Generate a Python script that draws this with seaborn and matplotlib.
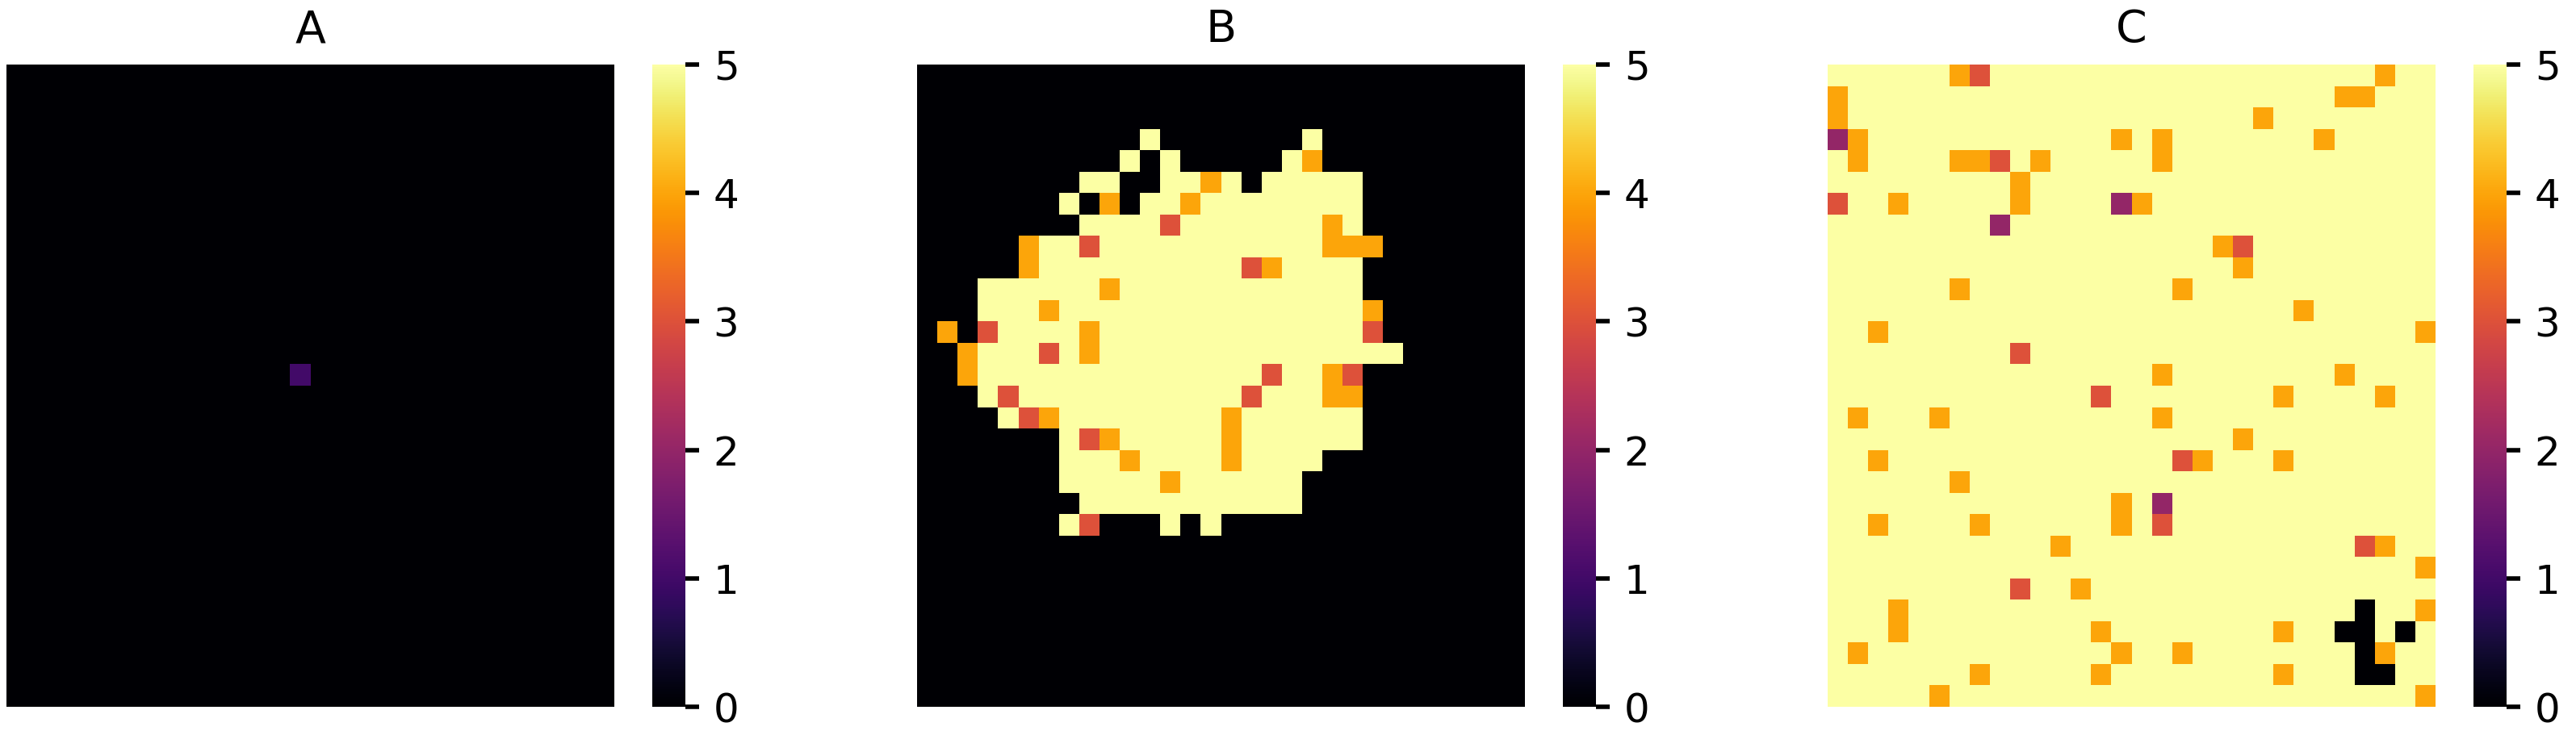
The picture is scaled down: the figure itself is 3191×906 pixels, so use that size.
import numpy as np
import pandas as pd
import matplotlib
matplotlib.use("Agg")
import matplotlib.pyplot as plt
import seaborn as sns

# grid size and panel titles
N = 30
titles = ["A", "B", "C"]

# A: everything 0 except a single cell
a_cells = [(14, 14, 1)]

# B: one string per row, one digit per cell
b_rows = [
    "000000000000000000000000000000",
    "000000000000000000000000000000",
    "000000000000000000000000000000",
    "000000000005000000050000000000",
    "000000000050500000540000000000",
    "000000005500554505555500000000",
    "000000050405545555555500000000",
    "000000005555355555554500000000",
    "000004553555555555554440000000",
    "000004555555555534555500000000",
    "000555555455555555555500000000",
    "000555455555555555555540000000",
    "040355554555555555555530000000",
    "004555354555555555555555000000",
    "004555555555555553554300000000",
    "000535555555555535554400000000",
    "000053455555555455555500000000",
    "000000053455555455555500000000",
    "000000055545555455550000000000",
    "000000055555455555500000000000",
    "000000005555555555500000000000",
    "000000053000505000000000000000",
    "000000000000000000000000000000",
    "000000000000000000000000000000",
    "000000000000000000000000000000",
    "000000000000000000000000000000",
    "000000000000000000000000000000",
    "000000000000000000000000000000",
    "000000000000000000000000000000",
    "000000000000000000000000000000",
]

# C: everything 5 except these (row, col, value)
c_cells = [
    (0, 6, 4), (0, 7, 3), (0, 27, 4),
    (1, 0, 4), (1, 25, 4), (1, 26, 4),
    (2, 0, 4), (2, 21, 4),
    (3, 0, 2), (3, 1, 4), (3, 14, 4), (3, 16, 4), (3, 24, 4),
    (4, 1, 4), (4, 6, 4), (4, 7, 4), (4, 8, 3), (4, 10, 4), (4, 16, 4),
    (5, 9, 4),
    (6, 0, 3), (6, 3, 4), (6, 9, 4), (6, 14, 2), (6, 15, 4),
    (7, 8, 2),
    (8, 19, 4), (8, 20, 3),
    (9, 20, 4),
    (10, 6, 4), (10, 17, 4),
    (11, 23, 4),
    (12, 2, 4), (12, 29, 4),
    (13, 9, 3),
    (14, 16, 4), (14, 25, 4),
    (15, 13, 3), (15, 22, 4), (15, 27, 4),
    (16, 1, 4), (16, 5, 4), (16, 16, 4),
    (17, 20, 4),
    (18, 2, 4), (18, 17, 3), (18, 18, 4), (18, 22, 4),
    (19, 6, 4),
    (20, 14, 4), (20, 16, 2),
    (21, 2, 4), (21, 7, 4), (21, 14, 4), (21, 16, 3),
    (22, 11, 4), (22, 26, 3), (22, 27, 4),
    (23, 29, 4),
    (24, 9, 3), (24, 12, 4),
    (25, 3, 4), (25, 26, 0), (25, 29, 4),
    (26, 3, 4), (26, 13, 4), (26, 22, 4), (26, 25, 0), (26, 26, 0), (26, 28, 0),
    (27, 1, 4), (27, 14, 4), (27, 17, 4), (27, 26, 0), (27, 27, 4),
    (28, 7, 4), (28, 13, 4), (28, 22, 4), (28, 26, 0), (28, 27, 0),
    (29, 5, 4), (29, 29, 4),
]

assert len(b_rows) == N and all(len(r) == N for r in b_rows)


def from_cells(cells, fill):
    g = np.full((N, N), fill, dtype=float)
    for r, c, v in cells:
        g[r, c] = v
    return pd.DataFrame(g)


grid_a = from_cells(a_cells, 0)
grid_b = pd.DataFrame([[int(ch) for ch in row] for row in b_rows], dtype=float)
grid_c = from_cells(c_cells, 5)

sns.set_style("white")
plt.rcParams["font.family"] = ["DejaVu Sans"]
plt.rcParams["text.color"] = "black"
plt.rcParams["ytick.color"] = "black"
plt.rcParams["ytick.labelcolor"] = "black"

W, H, DPI = 3191, 906, 200
fig = plt.figure(figsize=(W / DPI, H / DPI), dpi=DPI)


def box(x0, x1, y0=80, y1=876):
    return [x0 / W, 1 - y1 / H, (x1 - x0) / W, (y1 - y0) / H]


for i, (grid, title) in enumerate(zip([grid_a, grid_b, grid_c], titles)):
    left = 8 + 1128 * i
    ax = fig.add_axes(box(left, left + 753))
    cax = fig.add_axes(box(left + 800, left + 841))
    sns.heatmap(grid, ax=ax, cbar_ax=cax, cmap="inferno", vmin=0, vmax=5,
                xticklabels=False, yticklabels=False)
    ax.set_title(title, fontsize=20, pad=10, color="black")
    cax.tick_params(labelsize=18, length=6, width=2, pad=6.5,
                    color="black", labelcolor="black")
    cax.set_yticks([0, 1, 2, 3, 4, 5])

fig.savefig("out.png", dpi=DPI)
